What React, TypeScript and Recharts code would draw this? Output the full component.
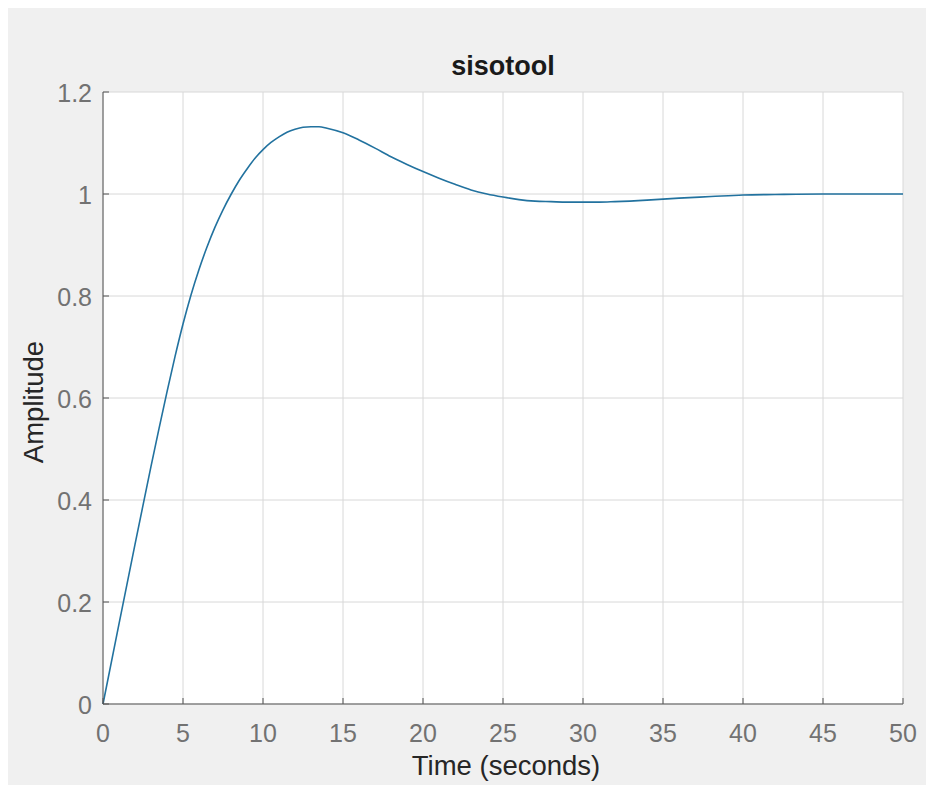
import React from 'react';
import { LineChart, Line, XAxis, YAxis, CartesianGrid } from 'recharts';

// step response
const TIME = [0, 1, 2, 3, 3.5, 4, 4.5, 5, 5.5, 6, 6.5, 7, 7.5, 8, 8.5, 9, 9.5, 10, 10.5, 11, 11.5, 12, 12.5, 13, 13.5, 14, 15, 16, 17, 18, 19, 20, 21, 22, 23, 24, 25, 26, 27, 28, 29, 30, 31, 32, 34, 36, 38, 40, 42, 45, 50];
const AMPLITUDE = [0, 0.157, 0.313, 0.466, 0.54, 0.612, 0.681, 0.745, 0.802, 0.852, 0.896, 0.935, 0.969, 0.999, 1.026, 1.049, 1.07, 1.087, 1.101, 1.112, 1.121, 1.127, 1.131, 1.132, 1.132, 1.129, 1.12, 1.106, 1.09, 1.073, 1.058, 1.044, 1.031, 1.019, 1.008, 1.0, 0.994, 0.989, 0.986, 0.985, 0.984, 0.984, 0.984, 0.985, 0.988, 0.992, 0.995, 0.998, 0.999, 1.0, 1.0];

const X_TICKS = [0, 5, 10, 15, 20, 25, 30, 35, 40, 45, 50];
const Y_TICKS = [0, 0.2, 0.4, 0.6, 0.8, 1, 1.2];

const W = 926;
const H = 777;
const PLOT_LEFT = 95;
const PLOT_RIGHT = 895;
const PLOT_TOP = 84;
const PLOT_BOTTOM = 696;
const TICK_LEN = 6;

const FONT = '"Liberation Sans", Arial, Helvetica, sans-serif';
const TICK_COLOR = '#727272';
const AXIS_COLOR = '#555555';

const data = TIME.map((t, i) => ({ t, y: AMPLITUDE[i] }));

const BottomTick = (props: any) => {
  const { x, payload } = props;
  return (
    <g>
      <line x1={x} x2={x} y1={PLOT_BOTTOM} y2={PLOT_BOTTOM - TICK_LEN} stroke={AXIS_COLOR} />
      <text x={x} y={PLOT_BOTTOM + 38} textAnchor="middle" fontSize={25} fill={TICK_COLOR} fontFamily={FONT}>
        {payload.value}
      </text>
    </g>
  );
};

const TopTick = (props: any) => {
  const { x } = props;
  return <line x1={x} x2={x} y1={PLOT_TOP} y2={PLOT_TOP + TICK_LEN} stroke={AXIS_COLOR} />;
};

const LeftTick = (props: any) => {
  const { y, payload } = props;
  return (
    <g>
      <line x1={PLOT_LEFT} x2={PLOT_LEFT + TICK_LEN} y1={y} y2={y} stroke={AXIS_COLOR} />
      <text x={PLOT_LEFT - 11} y={y + 10} textAnchor="end" fontSize={25} fill={TICK_COLOR} fontFamily={FONT}>
        {payload.value}
      </text>
    </g>
  );
};

const RightTick = (props: any) => {
  const { y } = props;
  return <line x1={PLOT_RIGHT} x2={PLOT_RIGHT - TICK_LEN} y1={y} y2={y} stroke={AXIS_COLOR} />;
};

export default function App() {
  return (
    <div style={{ position: 'relative', width: W, height: H, background: '#f0f0f0' }}>
      <LineChart
        width={W}
        height={H}
        data={data}
        margin={{ top: PLOT_TOP, right: W - PLOT_RIGHT, bottom: H - PLOT_BOTTOM - 60, left: PLOT_LEFT - 60 }}
      >
        <CartesianGrid stroke="#d8d8d8" fill="#ffffff" strokeWidth={1} />
        <XAxis
          dataKey="t"
          type="number"
          domain={[0, 50]}
          ticks={X_TICKS}
          interval={0}
          height={60}
          tickLine={false}
          axisLine={{ stroke: AXIS_COLOR }}
          tick={<BottomTick />}
        />
        <XAxis
          xAxisId="top"
          orientation="top"
          dataKey="t"
          type="number"
          domain={[0, 50]}
          ticks={X_TICKS}
          interval={0}
          height={0}
          tickLine={false}
          axisLine={{ stroke: AXIS_COLOR }}
          tick={<TopTick />}
        />
        <YAxis
          type="number"
          domain={[0, 1.2]}
          ticks={Y_TICKS}
          interval={0}
          width={60}
          tickLine={false}
          axisLine={{ stroke: AXIS_COLOR }}
          tick={<LeftTick />}
        />
        <YAxis
          yAxisId="right"
          orientation="right"
          type="number"
          domain={[0, 1.2]}
          ticks={Y_TICKS}
          interval={0}
          width={0}
          tickLine={false}
          axisLine={{ stroke: AXIS_COLOR }}
          tick={<RightTick />}
        />
        <Line
          type="monotone"
          dataKey="y"
          stroke="#22729f"
          strokeWidth={1.6}
          dot={false}
          isAnimationActive={false}
        />
      </LineChart>
      <svg width={W} height={H} style={{ position: 'absolute', left: 0, top: 0, pointerEvents: 'none' }}>
        <text x={495} y={67} textAnchor="middle" fontSize={27} fontWeight="bold" fill="#1a1a1a" fontFamily={FONT}>
          sisotool
        </text>
        <text x={498} y={767} textAnchor="middle" fontSize={27.5} fill="#262626" fontFamily={FONT}>
          Time (seconds)
        </text>
        <text
          x={25}
          y={394}
          textAnchor="middle"
          dominantBaseline="central"
          transform="rotate(-90 25 394)"
          fontSize={27.5}
          fill="#262626"
          fontFamily={FONT}
        >
          Amplitude
        </text>
      </svg>
    </div>
  );
}
